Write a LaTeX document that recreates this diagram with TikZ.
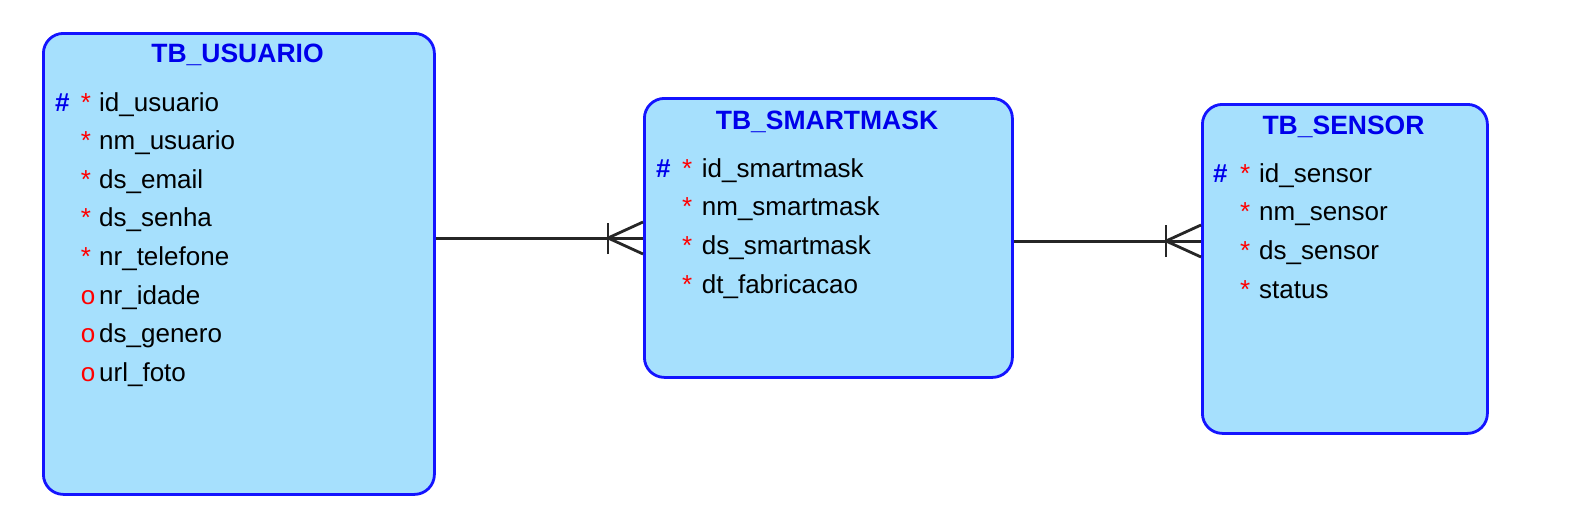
\documentclass[tikz,border=0pt]{standalone}
\usepackage{fontspec}
\setmainfont{Liberation Sans}
\definecolor{entfill}{RGB}{166,224,253}
\definecolor{entdraw}{RGB}{20,20,255}
\definecolor{keyblue}{RGB}{0,0,235}
\definecolor{mandred}{RGB}{255,0,0}
\tikzset{
  entity/.style={draw=entdraw, fill=entfill, line width=2.8pt, rounded corners=20pt, anchor=north west, inner sep=0pt},
  etitle/.style={font=\fontsize{26.5}{30}\selectfont\bfseries, text=keyblue, anchor=base, inner sep=0pt},
  attr/.style={font=\fontsize{26}{30}\selectfont, text=black, anchor=base west, inner sep=0pt},
  pk/.style={font=\fontsize{26}{30}\selectfont\bfseries, text=keyblue, anchor=base west, inner sep=0pt},
  mand/.style={font=\fontsize{26}{30}\selectfont, text=mandred, anchor=base west, inner sep=0pt},
  rel/.style={draw=black!85, line width=3pt},
  foot/.style={draw=black!85, line width=2.8pt},
}
\begin{document}
\begin{tikzpicture}[x=1pt, y=-1pt]
\useasboundingbox (0,0) rectangle (1581,525);
% entities
\node[entity, minimum width=391pt, minimum height=461pt] (usuario) at (42,32) {};
\node[entity, minimum width=368pt, minimum height=279pt] (smartmask) at (643,97) {};
\node[entity, minimum width=285pt, minimum height=329pt] (sensor) at (1201,103) {};
% titles
\node[etitle] (tu) at (237.5,62.3) {TB\_USUARIO};
\node[etitle] (tm) at (827,129.3) {TB\_SMARTMASK};
\node[etitle] (ts) at (1343.5,134.3) {TB\_SENSOR};
% usuario attributes
\node[pk] (u0h) at (55,111) {\#};
\node[mand] (u0s) at (80.7,111) {*};
\node[attr] (u0) at (99,111) {id\_usuario};
\node[mand] (u1s) at (80.7,149.6) {*};
\node[attr] (u1) at (99,149.6) {nm\_usuario};
\node[mand] (u2s) at (80.7,188.2) {*};
\node[attr] (u2) at (99,188.2) {ds\_email};
\node[mand] (u3s) at (80.7,226.8) {*};
\node[attr] (u3) at (99,226.8) {ds\_senha};
\node[mand] (u4s) at (80.7,265.4) {*};
\node[attr] (u4) at (99,265.4) {nr\_telefone};
\node[mand] (u5s) at (80.7,304) {o};
\node[attr] (u5) at (99,304) {nr\_idade};
\node[mand] (u6s) at (80.7,342.6) {o};
\node[attr] (u6) at (99,342.6) {ds\_genero};
\node[mand] (u7s) at (80.7,381.2) {o};
\node[attr] (u7) at (99,381.2) {url\_foto};
% smartmask attributes
\node[pk] (m0h) at (656,177.3) {\#};
\node[mand] (m0s) at (682,177.3) {*};
\node[attr] (m0) at (701.7,177.3) {id\_smartmask};
\node[mand] (m1s) at (682,215.9) {*};
\node[attr] (m1) at (701.7,215.9) {nm\_smartmask};
\node[mand] (m2s) at (682,254.5) {*};
\node[attr] (m2) at (701.7,254.5) {ds\_smartmask};
\node[mand] (m3s) at (682,293.1) {*};
\node[attr] (m3) at (701.7,293.1) {dt\_fabricacao};
% sensor attributes
\node[pk] (s0h) at (1213,182.3) {\#};
\node[mand] (s0s) at (1240,182.3) {*};
\node[attr] (s0) at (1259,182.3) {id\_sensor};
\node[mand] (s1s) at (1240,220.9) {*};
\node[attr] (s1) at (1259,220.9) {nm\_sensor};
\node[mand] (s2s) at (1240,259.5) {*};
\node[attr] (s2) at (1259,259.5) {ds\_sensor};
\node[mand] (s3s) at (1240,298.1) {*};
\node[attr] (s3) at (1259,298.1) {status};
% relationship 1
\coordinate (r1) at (608,238);
\draw[rel] (usuario.east |- r1) -- (smartmask.west |- r1);
\draw[foot] ([yshift=-16pt]r1) -- ([yshift=15pt]r1);
\draw[foot] ([yshift=-16pt]smartmask.west |- r1) -- (r1) -- ([yshift=16pt]smartmask.west |- r1);
% relationship 2
\coordinate (r2) at (1166,241);
\draw[rel] (smartmask.east |- r2) -- (sensor.west |- r2);
\draw[foot] ([yshift=-16pt]r2) -- ([yshift=16pt]r2);
\draw[foot] ([yshift=-16pt]sensor.west |- r2) -- (r2) -- ([yshift=16pt]sensor.west |- r2);
\end{tikzpicture}
\end{document}
